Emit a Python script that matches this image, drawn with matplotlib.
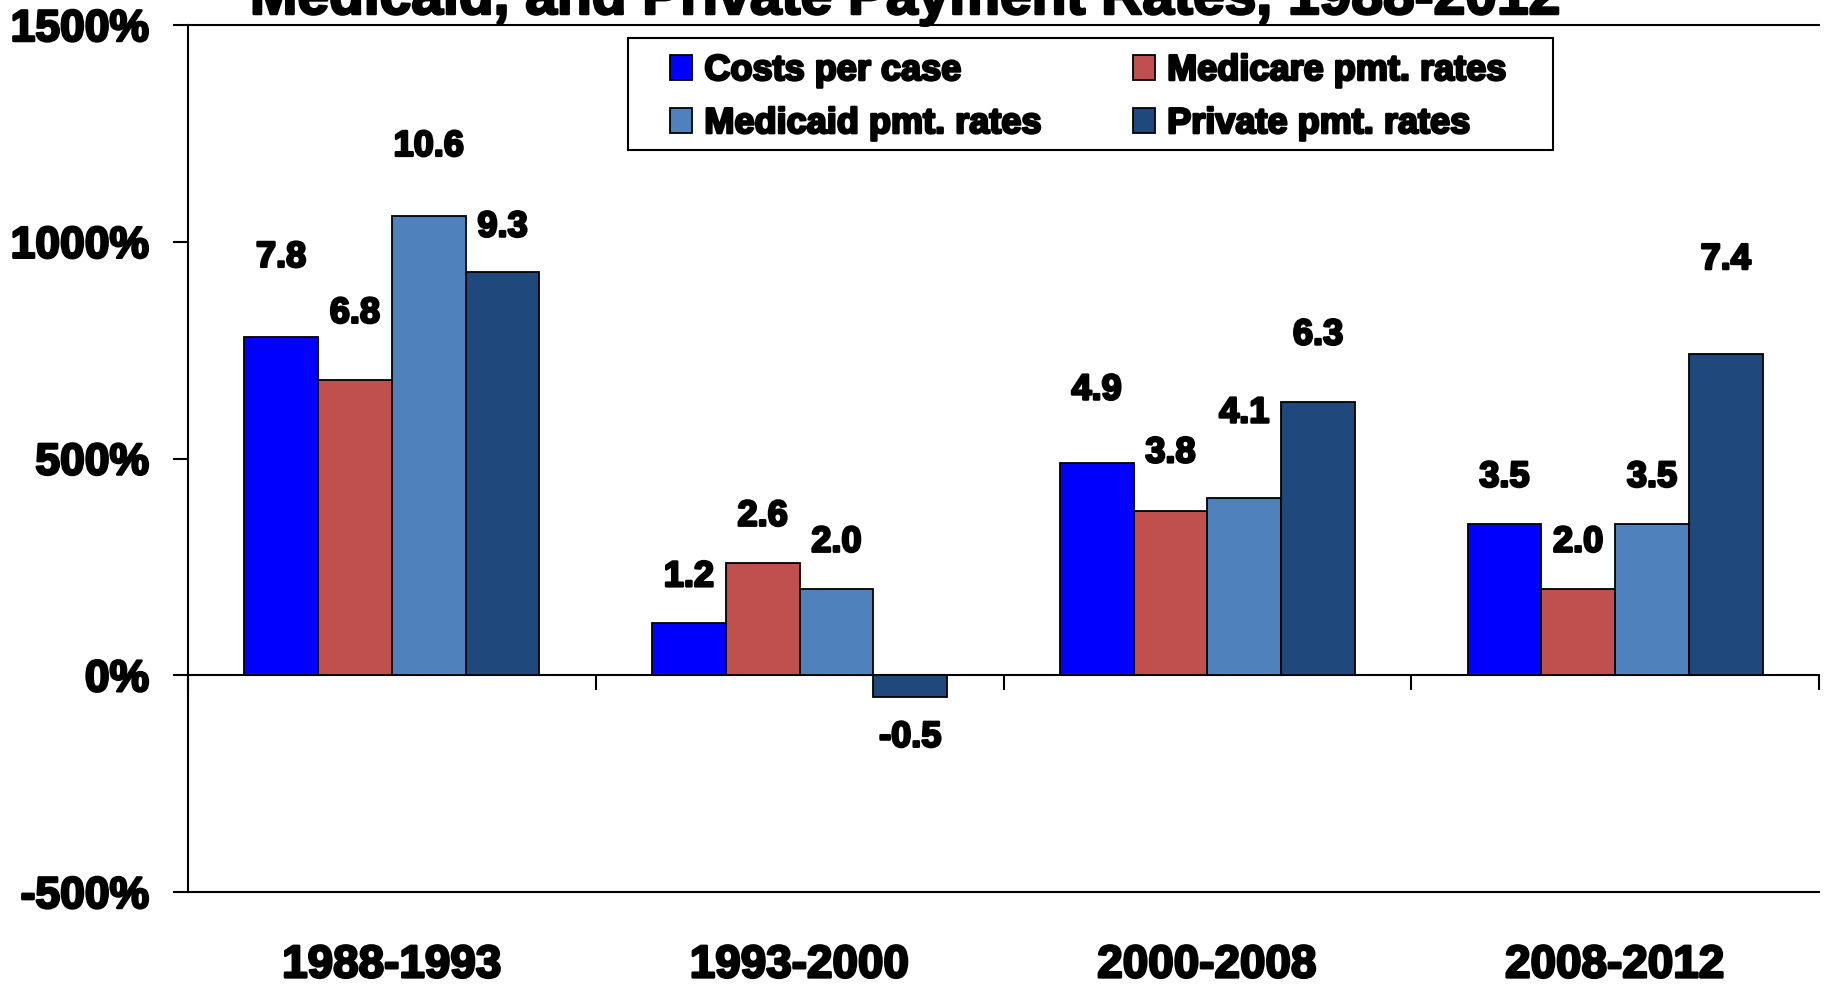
import numpy as np
import matplotlib
matplotlib.use("Agg")
from matplotlib import pyplot as plt
from matplotlib import patheffects as pe
from matplotlib.patches import Rectangle

# data (percent growth)
periods = ["1988-1993", "1993-2000", "2000-2008", "2008-2012"]
series = ["Costs per case", "Medicare pmt. rates", "Medicaid pmt. rates", "Private pmt. rates"]
costs = [780, 120, 490, 350]
medicare = [680, 260, 380, 200]
medicaid = [1060, 200, 410, 350]
private = [930, -50, 630, 740]
values = [costs, medicare, medicaid, private]
colors = ["#0000FF", "#C0504D", "#4F81BD", "#1F497D"]
# how far above (or below) each bar its label sits, data units
label_lift = [[184, 107, 168, 107],
              [155, 107, 133, 107],
              [160, 107, 195, 107],
              [104, -93, 155, 219]]

plt.rcParams['font.family'] = ['Liberation Sans', 'DejaVu Sans']
plt.rcParams['font.weight'] = 'bold'
heavy = [pe.withStroke(linewidth=1.8, foreground="black")]

fig = plt.figure(figsize=(18.25, 9.84), dpi=100)
ax = fig.add_axes([188 / 1825, 92 / 984, (1819 - 188) / 1825, (959 - 92) / 984])

x = np.arange(len(periods))
w = 0.181
bars = []
for i, (name, vals, c) in enumerate(zip(series, values, colors)):
    pos = x + (i - 1.5) * w
    bars.append(ax.bar(pos, vals, w, color=c, edgecolor="black", linewidth=1.3, label=name, zorder=3))
    for p, v, lift in zip(pos, vals, label_lift[i]):
        ax.text(p, v + lift, "%.1f" % (v / 100), ha="center", va="center",
                fontsize=26, fontweight="bold", path_effects=heavy)

ax.set_xlim(-0.5, len(periods) - 0.5)
ax.set_ylim(-500, 1500)
ax.set_yticks([-500, 0, 500, 1000, 1500])
ax.set_yticklabels(["-500%", "0%", "500%", "1000%", "1500%"])
ax.tick_params(axis="y", length=11, width=1.5, pad=17, labelsize=32)
for t in ax.get_yticklabels():
    t.set_path_effects(heavy)
ax.set_xticks(x)
ax.set_xticklabels(periods)
ax.tick_params(axis="x", length=0, pad=37, labelsize=33)
for t in ax.get_xticklabels():
    t.set_path_effects(heavy)
ax.spines['right'].set_visible(False)
for s in ["left", "top", "bottom"]:
    ax.spines[s].set_linewidth(1.5)

# zero line with group separators
zero = ax.secondary_xaxis(0.25)
zero.set_xticks(np.arange(len(periods) + 1) - 0.5)
zero.set_xticklabels([])
zero.tick_params(length=11, width=1.5, direction="out")
zero.spines['bottom'].set_linewidth(1.5)

# legend filled row by row
order = [0, 2, 1, 3]
leg = fig.legend([bars[k] for k in order], [series[k] for k in order], ncol=2,
                 loc="upper left", bbox_to_anchor=(652 / 1825, 1 - 35 / 984), fontsize=26,
                 frameon=False, handlelength=0.6, handleheight=0.7, handletextpad=0.35,
                 columnspacing=2.53, borderpad=0, labelspacing=0.5)
for t in leg.get_texts():
    t.set_path_effects(heavy)
fig.patches.append(Rectangle((628 / 1825, 1 - 150 / 984), (1553 - 628) / 1825, 112 / 984,
                             transform=fig.transFigure, fill=False, edgecolor="black",
                             linewidth=1.5, zorder=5))

fig.text(906 / 1825, 1 - 14 / 984, "Medicaid, and Private Payment Rates, 1988-2012",
         ha="center", va="baseline", fontsize=41, fontweight="bold", path_effects=heavy)

fig.savefig("out.png", dpi=100)
